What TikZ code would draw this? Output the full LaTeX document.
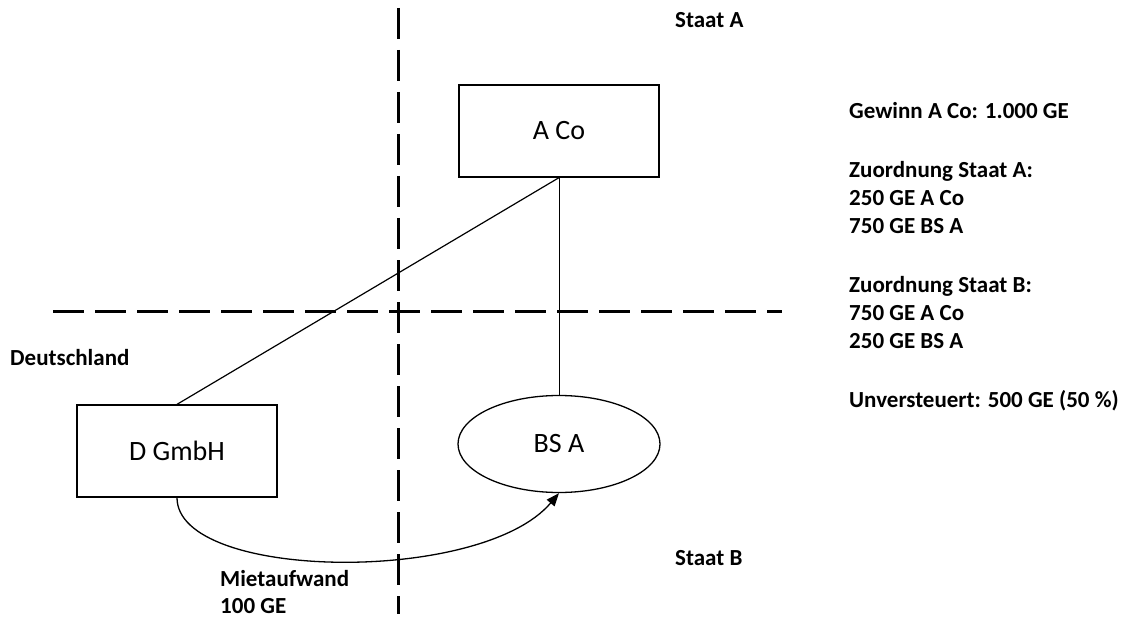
\documentclass[tikz,border=0pt]{standalone}
\usepackage{fontspec}
\setmainfont{Carlito}
\usepackage{tikz}
\usetikzlibrary{arrows.meta,shapes,positioning}
\tikzstyle{grenze}=[line width=3pt,dash pattern=on 31pt off 11pt]
\tikzstyle{Afirm}=[draw,line width=1.3pt,minimum width=200pt,minimum height=92pt,
                   inner sep=0,font=\fontsize{28}{32}\selectfont]
\tikzstyle{Abs}=[draw,ellipse,line width=1.3pt,minimum width=202pt,minimum height=97pt,
                 inner sep=0,font=\fontsize{28}{32}\selectfont]
\tikzstyle{Alabel}=[anchor=west,inner sep=0,font=\bfseries\fontsize{23}{28}\selectfont]
\tikzstyle{zahlung}=[line width=1.3pt,-{Triangle[length=13pt,width=10pt]}]

\begin{document}
\begin{tikzpicture}[x=1pt,y=-1pt]
\path[use as bounding box] (0,0) rectangle (1134,620);

% Staatsgrenzen
\draw[grenze] (398,8) -- (398,614);
\draw[grenze] (53,311) -- (782,311);

\node[Afirm] (aco) at (559,131) {A Co};
\node[Afirm] (dgmbh) at (177,451) {D GmbH};
\node[Abs] (bsa) at (559,444) {BS A};

\node[Alabel] (staatA) at (675,20) {Staat A};
\node[Alabel] (staatB) at (675,558) {Staat B};
\node[Alabel] (deutschland) at (10,358) {Deutschland};
\node[Alabel,align=left,anchor=north west,font=\bfseries\fontsize{23}{27}\selectfont]
  (miete) at (220,570) {Mietaufwand\\100 GE};

\node[Alabel,align=left,anchor=north west] (info) at (849,102) {Gewinn A Co: 1.000 GE\\[31pt]
Zuordnung Staat A:\\250 GE A Co\\750 GE BS A\\[31pt]
Zuordnung Staat B:\\750 GE A Co\\250 GE BS A\\[31pt]
Unversteuert: 500 GE (50 \%)};

\draw[line width=1.2pt] (dgmbh.north) -- (aco.south);
\draw[line width=0.8pt] (aco.south) -- (bsa.north);
\draw[zahlung] (dgmbh.south) .. controls +(0,83) and +(-78,92) .. (bsa.south);

\end{tikzpicture}
\end{document}
